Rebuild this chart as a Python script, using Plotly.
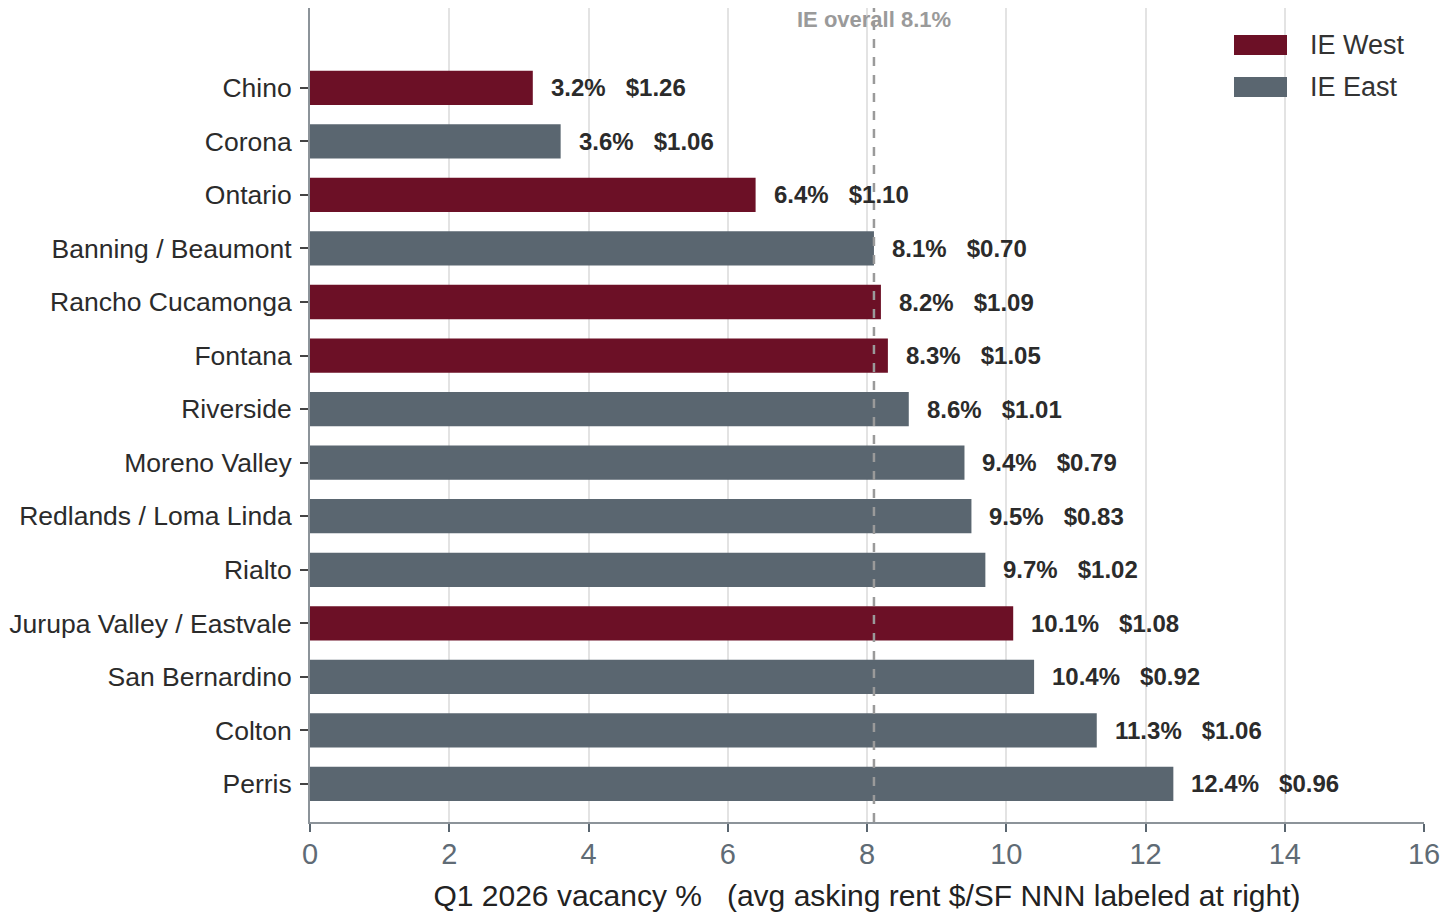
import plotly.graph_objects as go

# Q1 2026 Inland Empire industrial submarkets
submarkets = [
    "Chino", "Corona", "Ontario", "Banning / Beaumont", "Rancho Cucamonga",
    "Fontana", "Riverside", "Moreno Valley", "Redlands / Loma Linda", "Rialto",
    "Jurupa Valley / Eastvale", "San Bernardino", "Colton", "Perris",
]
regions = [
    "IE West", "IE East", "IE West", "IE East", "IE West",
    "IE West", "IE East", "IE East", "IE East", "IE East",
    "IE West", "IE East", "IE East", "IE East",
]
vacancy_pct = [3.2, 3.6, 6.4, 8.1, 8.2, 8.3, 8.6, 9.4, 9.5, 9.7, 10.1, 10.4, 11.3, 12.4]
asking_rent = [1.26, 1.06, 1.10, 0.70, 1.09, 1.05, 1.01, 0.79, 0.83, 1.02, 1.08, 0.92, 1.06, 0.96]
ie_overall = 8.1
x_ticks = [0, 2, 4, 6, 8, 10, 12, 14, 16]

region_colors = {"IE West": "#6c1026", "IE East": "#5a6670"}
FONT = "Liberation Sans, Arial, sans-serif"

fig = go.Figure()
fig.add_trace(go.Bar(
    x=vacancy_pct,
    y=submarkets,
    orientation="h",
    width=0.64,
    marker=dict(color=[region_colors[r] for r in regions], line=dict(width=0)),
    showlegend=False,
    hoverinfo="skip",
))

# value labels to the right of each bar
for name, v, r in zip(submarkets, vacancy_pct, asking_rent):
    fig.add_annotation(
        x=v, y=name, xref="x", yref="y",
        text=f"{v:.1f}%   ${r:.2f}",
        showarrow=False, xanchor="left", xshift=16,
        font=dict(family=FONT, size=24, color="#2b2b2b", weight="bold"),
    )

# IE overall reference line
fig.add_shape(
    type="line", xref="x", yref="paper",
    x0=ie_overall, x1=ie_overall, y0=0, y1=1,
    line=dict(color="#9a9a9a", width=2.5, dash="dash"),
    layer="above",
)
fig.add_annotation(
    x=ie_overall, y=1, xref="x", yref="paper",
    text=f"IE overall {ie_overall}%", showarrow=False,
    xanchor="center", yanchor="middle", yshift=-11,
    font=dict(family=FONT, size=22, color="#9a9a9a", weight="bold"),
)

# legend drawn as swatches + labels
legend_items = ["IE West", "IE East"]
for i, lab in enumerate(legend_items):
    yc = 45 + i * 42
    fig.add_shape(
        type="rect", xref="paper", yref="paper",
        x0=(1234 - 310) / 1114, x1=(1287 - 310) / 1114,
        y0=(822 - (yc + 10)) / 814, y1=(822 - (yc - 10)) / 814,
        fillcolor=region_colors[lab], line=dict(width=0),
    )
    fig.add_annotation(
        x=(1308 - 310) / 1114, y=(822 - yc) / 814, xref="paper", yref="paper",
        text=lab, showarrow=False, xanchor="left", yanchor="middle",
        font=dict(family=FONT, size=27, color="#333333"),
    )

fig.update_layout(
    width=1440, height=914,
    margin=dict(l=310, r=16, t=8, b=92),
    paper_bgcolor="white", plot_bgcolor="white",
    font=dict(family=FONT),
    bargap=0.36,
)
fig.update_xaxes(
    range=[0, 16], tickvals=x_ticks,
    showgrid=True, gridcolor="#e3e3e3", gridwidth=1.5,
    showline=True, linecolor="#8c9399", linewidth=2,
    ticks="outside", ticklen=8, tickwidth=2, tickcolor="#5a6670",
    tickfont=dict(family=FONT, size=29, color="#5f6b75"),
    ticklabeloverflow="allow", ticklabelstandoff=-3,
    automargin=False,
    zeroline=False,
    title=dict(text="Q1 2026 vacancy %   (avg asking rent $/SF NNN labeled at right)",
               font=dict(family=FONT, size=30, color="#222222"), standoff=16),
)
fig.update_yaxes(
    range=[13.71, -1.49],
    showgrid=False,
    showline=True, linecolor="#8c9399", linewidth=2,
    ticks="outside", ticklen=8, tickwidth=2, tickcolor="#444444",
    tickfont=dict(family=FONT, size=26.5, color="#2b2b2b"),
    ticklabelstandoff=3,
    automargin=False,
    zeroline=False,
)

fig.write_html("out.html")
